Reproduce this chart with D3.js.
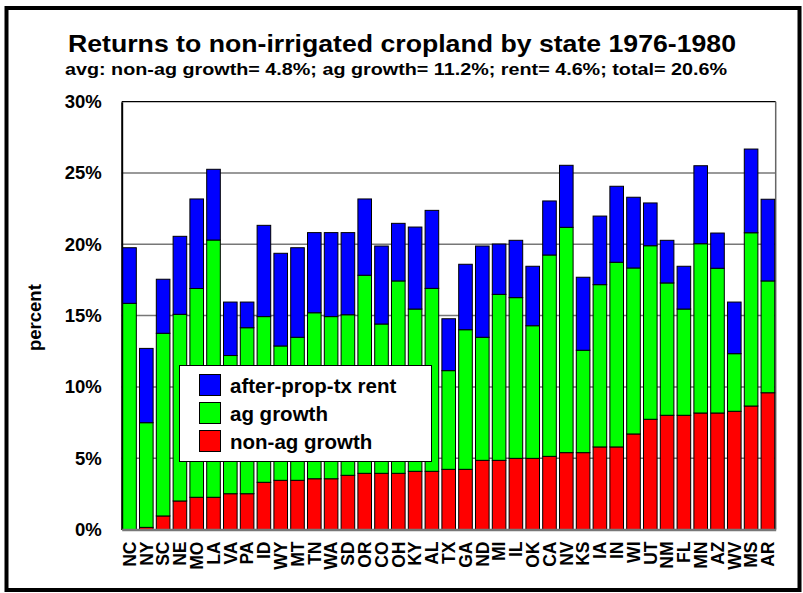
<!DOCTYPE html>
<html>
<head>
<meta charset="utf-8">
<script src="https://cdn.jsdelivr.net/npm/d3@7"></script>
<style>
  html, body { margin: 0; padding: 0; background: #fff; }
  svg { display: block; font-family: "Liberation Sans", Arial, sans-serif; font-weight: bold; }
</style>
</head>
<body>
<svg id="chart" width="803" height="593"></svg>
<script>
// States, ordered by non-ag growth
const states = ["NC","NY","SC","NE","MO","LA","VA","PA","ID","WY","MT","TN","WA","SD","OR","CO","OH","KY","AL","TX","GA","ND","MI","IL","OK","CA","NV","KS","IA","IN","WI","UT","NM","FL","MN","AZ","WV","MS","AR"];

// Components of the return, percent
const nonAgGrowth = [0.00,0.15,0.95,2.00,2.26,2.26,2.51,2.51,3.31,3.45,3.45,3.56,3.56,3.80,3.94,3.94,3.94,4.08,4.08,4.22,4.22,4.85,4.85,4.99,4.99,5.13,5.39,5.39,5.79,5.79,6.70,7.73,8.01,8.01,8.17,8.17,8.29,8.66,9.59];
const agGrowth    = [15.86,7.34,12.81,13.09,14.64,18.04,9.69,11.64,11.62,9.42,10.03,11.64,11.37,11.26,13.89,10.47,13.49,11.38,12.83,6.92,9.79,8.63,11.64,11.27,9.30,14.12,15.80,7.18,11.38,12.95,11.64,12.17,9.28,7.45,11.87,10.15,4.04,12.15,7.84];
const rent        = [3.90,5.21,3.79,5.47,6.28,4.96,3.75,1.80,6.40,6.50,6.28,5.62,5.89,5.76,5.35,5.47,4.04,5.75,5.47,3.64,4.59,6.40,3.53,4.02,4.17,3.79,4.35,5.12,4.81,5.33,4.96,3.00,2.99,3.00,5.47,2.47,3.62,5.87,5.73];

const seriesKeys   = ["nonAg", "ag", "rent"];
const seriesLabels = ["non-ag growth", "ag growth", "after-prop-tx rent"];
const seriesColors = ["#ff0000", "#00ff00", "#0000ff"];

const yTickValues = [0, 5, 10, 15, 20, 25, 30];

const titleText = "Returns to non-irrigated cropland by state 1976-1980";
const subtitleText = "avg: non-ag growth= 4.8%; ag growth= 11.2%; rent= 4.6%; total= 20.6%";

const rows = states.map((s, i) => ({ state: s, nonAg: nonAgGrowth[i], ag: agGrowth[i], rent: rent[i] }));

const svg = d3.select("#chart");
const plot = { left: 121.7, right: 775.7, top: 101.7, bottom: 529.5 };

const x = d3.scaleBand().domain(states).range([plot.left, plot.right]).paddingInner(0.19).paddingOuter(0.06);
const y = d3.scaleLinear().domain([0, 30]).range([plot.bottom, plot.top]);

// Outer frame
svg.append("rect").attr("x", 6.5).attr("y", 8).attr("width", 793).attr("height", 582)
  .attr("fill", "#fff").attr("stroke", "#000").attr("stroke-width", 4);

// Titles
svg.append("text").attr("x", 402).attr("y", 52).attr("text-anchor", "middle")
  .attr("font-size", 24).attr("textLength", 668).attr("lengthAdjust", "spacingAndGlyphs").text(titleText);
svg.append("text").attr("x", 396).attr("y", 75).attr("text-anchor", "middle")
  .attr("font-size", 16.5).attr("textLength", 662).attr("lengthAdjust", "spacingAndGlyphs").text(subtitleText);

// Gridlines
svg.append("g").selectAll("line").data(yTickValues.filter(v => v > 0 && v < 30)).join("line")
  .attr("x1", plot.left).attr("x2", plot.right)
  .attr("y1", d => y(d)).attr("y2", d => y(d))
  .attr("stroke", "#777").attr("stroke-width", 1.5);

// Plot frame
svg.append("line").attr("x1", plot.left).attr("x2", plot.right).attr("y1", plot.top).attr("y2", plot.top)
  .attr("stroke", "#000").attr("stroke-width", 1.2);
svg.append("line").attr("x1", plot.right).attr("x2", plot.right).attr("y1", plot.top).attr("y2", plot.bottom)
  .attr("stroke", "#666").attr("stroke-width", 1.5);

// Y axis with percentage labels
const yAxis = d3.axisLeft(y).tickValues(yTickValues).tickSize(0).tickPadding(20).tickFormat(d => d + "%");
const gy = svg.append("g").attr("transform", `translate(${plot.left},0)`).call(yAxis);
gy.select(".domain").attr("stroke", "#000").attr("stroke-width", 2);
gy.selectAll("text").attr("font-size", 18.5).attr("font-family", null).attr("fill", "#000");

// Stacked bars
const stacked = d3.stack().keys(seriesKeys)(rows);
svg.append("g").selectAll("g").data(stacked).join("g")
  .attr("fill", (d, i) => seriesColors[i])
  .selectAll("rect").data(d => d).join("rect")
  .attr("x", d => x(d.data.state))
  .attr("width", x.bandwidth())
  .attr("y", d => y(d[1]))
  .attr("height", d => Math.max(0, y(d[0]) - y(d[1])))
  .attr("stroke", "#000").attr("stroke-width", 1);

// X axis with rotated state names
const xAxis = d3.axisBottom(x).tickSize(0).tickPadding(0);
const gx = svg.append("g").attr("transform", `translate(0,${plot.bottom})`).call(xAxis);
gx.select(".domain").attr("stroke", "#777").attr("stroke-width", 2.5);
gx.selectAll("text")
  .attr("font-size", 17.5).attr("font-family", null).attr("fill", "#000")
  .attr("text-anchor", "end")
  .attr("dy", "0.36em")
  .attr("transform", "translate(0,12) rotate(-90)")
  .attr("x", 0).attr("y", 0);

// Y axis title
svg.append("text").attr("transform", `translate(41,${(plot.top + plot.bottom) / 2 + 2}) rotate(-90)`)
  .attr("text-anchor", "middle").attr("font-size", 18.5).text("percent");

// Legend
const legend = svg.append("g");
legend.append("rect").attr("x", 179.5).attr("y", 365.5).attr("width", 252).attr("height", 96)
  .attr("fill", "#fff").attr("stroke", "#000").attr("stroke-width", 1);
const legendOrder = [2, 1, 0];
legendOrder.forEach((si, k) => {
  const ly = 374.5 + k * 28;
  legend.append("rect").attr("x", 199.5).attr("y", ly).attr("width", 21).attr("height", 21)
    .attr("fill", seriesColors[si]).attr("stroke", "#000").attr("stroke-width", 1);
  legend.append("text").attr("x", 230).attr("y", ly + 18).attr("font-size", 20.5).text(seriesLabels[si]);
});
</script>
</body>
</html>
